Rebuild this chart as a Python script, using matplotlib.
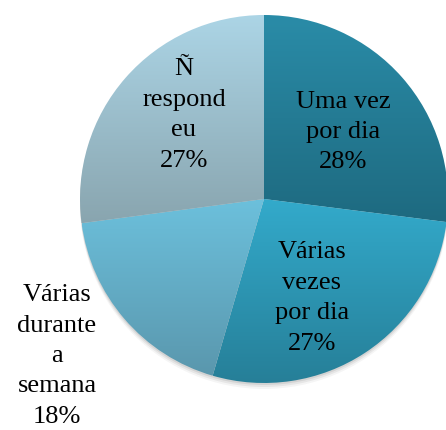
import numpy as np
import matplotlib.pyplot as plt
from matplotlib.colors import LinearSegmentedColormap

labels = ['Uma vez\npor dia\n28%', 'Várias\nvezes\npor dia\n27%',
          'Várias\ndurante\na\nsemana\n18%', 'Ñ\nrespond\neu\n27%']
values = [27.0, 27.5, 18.4, 27.1]

# top / bottom colours of each slice gradient
top_colors = ['#2a8ca8', '#33aacb', '#6cc0dc', '#acd5e6']
bot_colors = ['#1e6a80', '#267f98', '#5a97ad', '#89a5af']

# label centres (pixels, y down)
label_pos = [(343, 132), (312, 298), (57, 356), (184, 115)]

W, H = 446, 430
cx, cy, r = 264, 199, 184

fig = plt.figure(figsize=(W / 100, H / 100), dpi=100)
ax = fig.add_axes([0, 0, 1, 1])

# soft shadow under the pie
for k, a in [(6, 0.04), (4, 0.06), (2, 0.08)]:
    ax.add_patch(plt.Circle((cx, H - cy - k), r, color='black', alpha=a, lw=0))

wedges, _ = ax.pie(values, startangle=90, counterclock=False,
                   center=(cx, H - cy), radius=r,
                   wedgeprops=dict(linewidth=0))

grad = np.linspace(0, 1, 256).reshape(-1, 1)
for w, c1, c2 in zip(wedges, top_colors, bot_colors):
    w.set_facecolor('none')
    bb = w.get_path().get_extents(w.get_transform() - ax.transData)
    cmap = LinearSegmentedColormap.from_list('g', [c1, c2])
    im = ax.imshow(grad, cmap=cmap, aspect='auto', origin='upper',
                   extent=[bb.x0, bb.x1, bb.y0, bb.y1], zorder=2)
    im.set_clip_path(w)

for txt, (x, y) in zip(labels, label_pos):
    ax.text(x, H - y, txt, ha='center', va='center', fontsize=19,
            family='Liberation Serif', color='black', linespacing=1.5, zorder=3)

ax.set_xlim(0, W)
ax.set_ylim(0, H)
ax.set_aspect('equal')
ax.axis('off')
fig.savefig('out.png', dpi=100)
